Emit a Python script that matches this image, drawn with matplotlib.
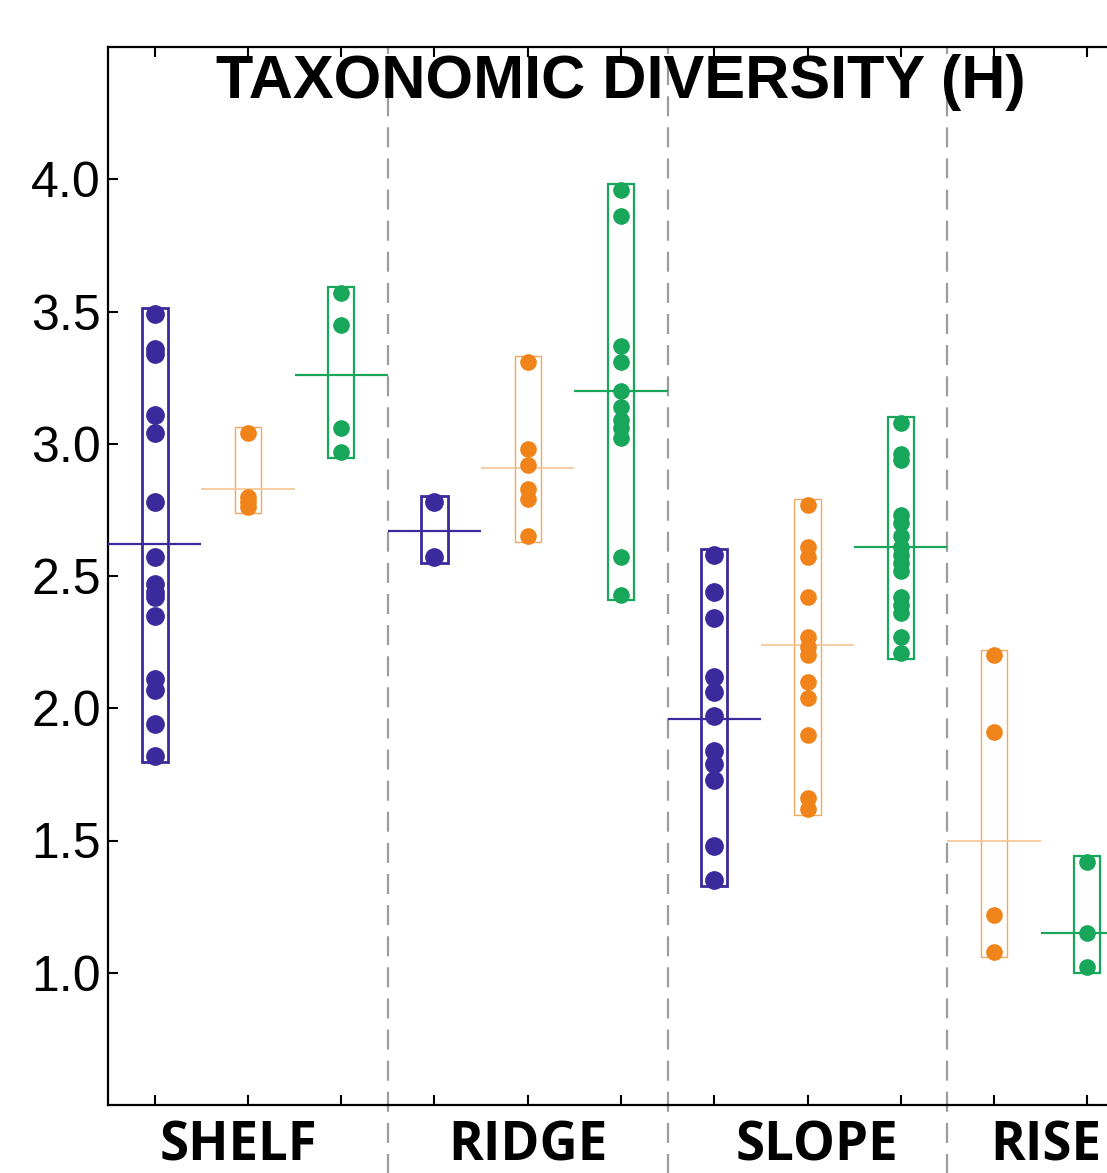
import matplotlib
matplotlib.use("Agg")
import matplotlib.pyplot as plt
from matplotlib.patches import Rectangle

# values, one list per region / series
shelf_blue = [3.49, 3.36, 3.34, 3.11, 3.04, 2.78, 2.57, 2.47, 2.44, 2.42, 2.35, 2.11, 2.07, 1.94, 1.82]
shelf_orange = [3.04, 2.80, 2.78, 2.76]
shelf_green = [3.57, 3.45, 3.06, 2.97]
ridge_blue = [2.78, 2.57]
ridge_orange = [3.31, 2.98, 2.92, 2.83, 2.79, 2.65]
ridge_green = [3.96, 3.86, 3.37, 3.31, 3.20, 3.14, 3.09, 3.06, 3.02, 2.57, 2.43]
slope_blue = [2.58, 2.44, 2.34, 2.12, 2.06, 1.97, 1.84, 1.79, 1.73, 1.48, 1.35]
slope_orange = [2.77, 2.61, 2.57, 2.42, 2.27, 2.23, 2.20, 2.10, 2.04, 1.90, 1.66, 1.62]
slope_green = [3.08, 2.96, 2.94, 2.73, 2.70, 2.65, 2.61, 2.58, 2.55, 2.52, 2.42, 2.39, 2.36, 2.27, 2.21]
rise_orange = [2.20, 1.91, 1.22, 1.08]
rise_green = [1.42, 1.15, 1.02]

# mean lines as drawn in the reference
means = [2.62, 2.83, 3.26, 2.67, 2.91, 3.20, 1.96, 2.24, 2.61, 1.50, 1.15]

regions = ["SHELF", "RIDGE", "SLOPE", "RISE"]
region_label_x = [1.9, 5.0, 8.1, 10.55]
dividers = [3.5, 6.5, 9.5]
yticks = [1.0, 1.5, 2.0, 2.5, 3.0, 3.5, 4.0]

series = [
    (shelf_blue, "blue"), (shelf_orange, "orange"), (shelf_green, "green"),
    (ridge_blue, "blue"), (ridge_orange, "orange"), (ridge_green, "green"),
    (slope_blue, "blue"), (slope_orange, "orange"), (slope_green, "green"),
    (rise_orange, "orange"), (rise_green, "green"),
]

styles = {
    "blue":   dict(dot="#3a2a9c", ms=13.5, box="#3a2a9c", box_lw=2.0, mean="#3a2a9c", mean_lw=1.6),
    "orange": dict(dot="#f0841a", ms=12.0, box="#f3a85f", box_lw=1.0, mean="#f6c592", mean_lw=1.2),
    "green":  dict(dot="#17a65a", ms=12.0, box="#17a65a", box_lw=1.6, mean="#17a65a", mean_lw=1.6),
}

fig = plt.figure(figsize=(11.07, 11.73), dpi=100)
ax = fig.add_axes([108 / 1107, 1 - 1105 / 1173, (1134 - 108) / 1107, (1105 - 47) / 1173])

ax.set_xlim(0.5, 11.5)
ax.set_ylim(0.5, 4.5)

for d in dividers:
    ax.plot([d, d], [0.1, 4.5], color="#9c9c9c", lw=1.6, ls=(0, (9, 5)),
            clip_on=False, zorder=1)

box_w = 0.28
pad = 0.022
for i, (vals, col) in enumerate(series):
    x = i + 1
    st = styles[col]
    lo, hi = min(vals) - pad, max(vals) + pad
    ax.add_patch(Rectangle((x - box_w / 2, lo), box_w, hi - lo, fill=False,
                           edgecolor=st["box"], lw=st["box_lw"], zorder=3))
    ax.hlines(means[i], x - 0.5, x + 0.5, color=st["mean"], lw=st["mean_lw"], zorder=4)
    ax.plot([x] * len(vals), vals, "o", color=st["dot"], ms=st["ms"], mec="none", zorder=5)

for s in ["left", "bottom", "top"]:
    ax.spines[s].set_linewidth(1.6)
ax.spines["right"].set_visible(False)

ax.set_yticks(yticks)
ax.set_yticklabels([f"{v:.1f}" for v in yticks], fontfamily="Liberation Sans", fontsize=36)
ax.set_xticks(range(1, 12))
ax.set_xticklabels([])
ax.tick_params(axis="y", direction="in", length=7, width=1.5, pad=5)
ax.tick_params(axis="x", direction="in", length=7, width=1.5, top=True)

for name, lx in zip(regions, region_label_x):
    ax.text(lx, -0.039, name, transform=ax.get_xaxis_transform(), ha="center", va="center",
            fontfamily="Open Sans", fontweight="bold", fontsize=38)

ax.text(0.5, 0.952, "TAXONOMIC DIVERSITY (H)", transform=ax.transAxes, ha="center",
        va="baseline", fontfamily="Liberation Sans", fontweight="bold", fontsize=44, zorder=10)

fig.savefig("out.png", dpi=100)
